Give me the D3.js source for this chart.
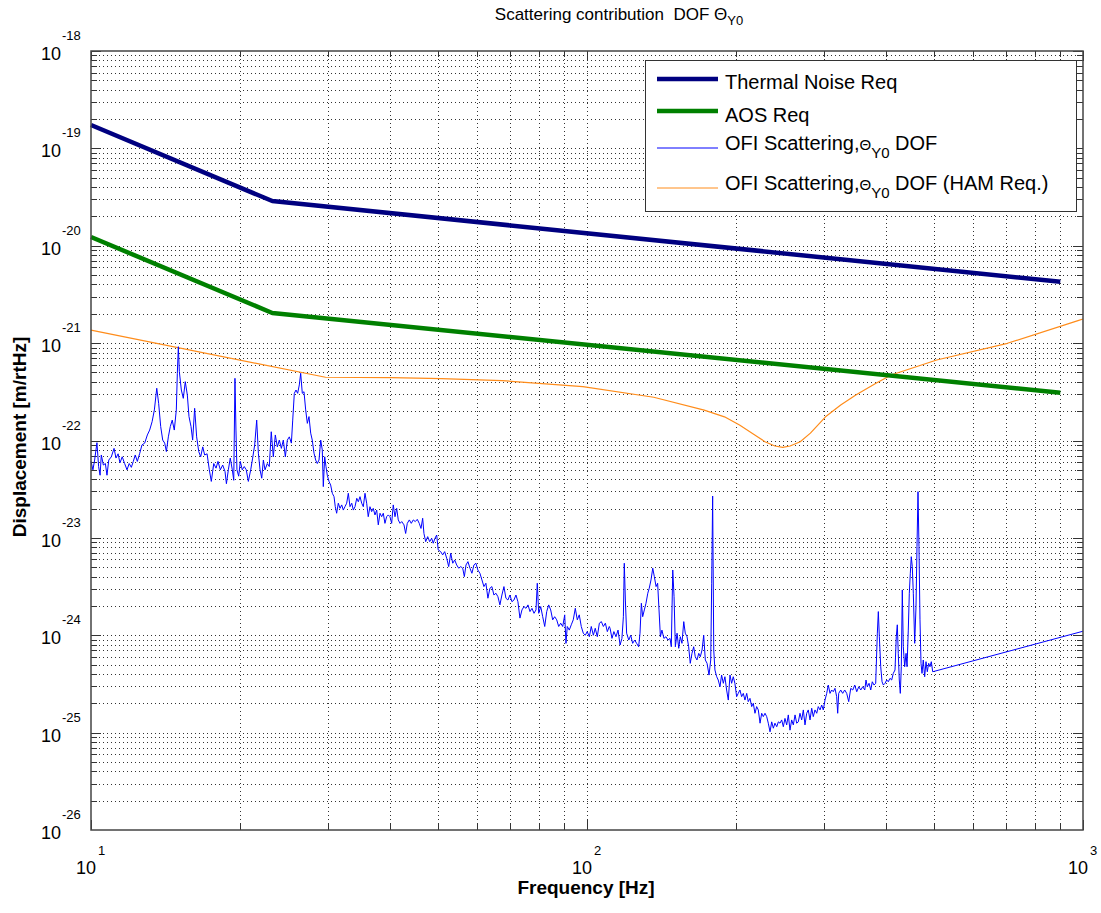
<!DOCTYPE html>
<meta charset="utf-8">
<style>
    body { margin: 0; background: #fff; }
    text { font-family: "Liberation Sans", Arial, Helvetica, sans-serif; fill: #000; }
    .grid line { stroke: #333; stroke-width: 1; stroke-dasharray: 1,3; }
    .tick { stroke: #333; stroke-width: 1; }
    .frame { fill: none; stroke: #444; stroke-width: 1.5; }
    .series { fill: none; stroke-linejoin: round; }
</style>
<svg width="1101" height="913"></svg>
<script src="https://d3js.org/d3.v7.min.js"></script>
<script>

    // requirement curves (frequency Hz, displacement m/rtHz)
    var thermalReq = [[10, 1.74e-19], [23.2, 2.88e-20], [900, 4.27e-21]];
    var aosReq = [[10, 1.23e-20], [23.2, 2.04e-21], [900, 3.09e-22]];

    var hamReq = [[10, 1.36e-21], [29.7, 4.46e-22], [40.3, 4.42e-22], [50.9, 4.32e-22], [67.4, 4.12e-22],
        [98.1, 3.57e-22], [136.3, 2.78e-22], [172.3, 2.05e-22], [189.3, 1.75e-22], [203, 1.44e-22],
        [217.9, 1.14e-22], [228.4, 9.72e-23], [239.3, 8.78e-23], [248, 8.51e-23], [256.7, 8.78e-23],
        [269.1, 9.72e-23], [282.1, 1.19e-22], [302.6, 1.75e-22], [324.7, 2.31e-22], [348.3, 2.93e-22],
        [382.5, 3.87e-22], [410.5, 4.71e-22], [507, 6.71e-22], [704, 9.96e-22], [977, 1.70e-21], [1000, 1.77e-21]];

    var ofiScatter = [
        [10.0, 6.1e-23], [10.09, 5.0e-23], [10.17, 6.3e-23], [10.28, 9.5e-23], [10.36, 5.4e-23], [10.43, 4.4e-23],
        [10.49, 7.1e-23], [10.59, 5.6e-23], [10.69, 5.8e-23], [10.77, 4.4e-23], [10.86, 6.3e-23], [10.99, 6.8e-23],
        [11.13, 8.3e-23], [11.23, 6.6e-23], [11.34, 7.3e-23], [11.44, 5.9e-23], [11.56, 6.8e-23], [11.69, 5.8e-23],
        [11.82, 5.0e-23], [11.94, 5.8e-23], [12.06, 5.3e-23], [12.17, 6.1e-23], [12.28, 7.1e-23], [12.40, 6.1e-23],
        [12.54, 7.4e-23], [12.67, 9.0e-23], [12.83, 9.4e-23], [12.99, 1.14e-22], [13.13, 1.28e-22], [13.28, 1.56e-22],
        [13.42, 2.06e-22], [13.57, 3.44e-22], [13.69, 2.41e-22], [13.82, 1.39e-22], [13.95, 1.01e-22], [14.08, 9.4e-23],
        [14.19, 7.7e-23], [14.32, 1.09e-22], [14.45, 1.39e-22], [14.58, 1.62e-22], [14.72, 1.28e-22], [14.86, 2.06e-22],
        [14.93, 4.90e-22], [15.00, 9.19e-22], [15.07, 5.09e-22], [15.21, 3.30e-22], [15.35, 2.71e-22], [15.49, 4.02e-22],
        [15.64, 2.93e-22], [15.76, 1.76e-22], [15.91, 1.39e-22], [16.03, 1.01e-22], [16.18, 2.14e-22], [16.33, 1.09e-22],
        [16.49, 7.7e-23], [16.64, 6.8e-23], [16.80, 8.6e-23], [16.95, 7.1e-23], [17.14, 7.3e-23], [17.32, 5.0e-23],
        [17.48, 3.8e-23], [17.68, 5.8e-23], [17.87, 5.2e-23], [18.03, 6.1e-23], [18.23, 5.0e-23], [18.43, 5.6e-23],
        [18.63, 4.8e-23], [18.75, 3.6e-23], [18.92, 5.0e-23], [19.09, 6.6e-23], [19.27, 5.0e-23], [19.40, 3.9e-23],
        [19.51, 4.35e-22], [19.60, 1.28e-22], [19.69, 5.0e-23], [19.85, 4.3e-23], [20.00, 6.1e-23], [20.18, 5.0e-23],
        [20.37, 5.4e-23], [20.56, 5.0e-23], [20.76, 3.8e-23], [20.99, 5.0e-23], [21.18, 6.6e-23], [21.38, 9.0e-23],
        [21.58, 1.62e-22], [21.75, 7.4e-23], [21.92, 5.0e-23], [22.09, 4.1e-23], [22.26, 6.3e-23], [22.43, 5.0e-23],
        [22.67, 5.8e-23], [22.88, 5.4e-23], [23.09, 1.23e-22], [23.31, 6.8e-23], [23.53, 1.14e-22], [23.75, 8.6e-23],
        [23.97, 1.01e-22], [24.20, 8.3e-23], [24.42, 1.01e-22], [24.65, 6.8e-23], [24.88, 1.01e-22], [25.11, 1.09e-22],
        [25.35, 9.4e-23], [25.51, 1.62e-22], [25.70, 3.05e-22], [25.90, 3.30e-22], [26.10, 3.05e-22], [26.30, 3.72e-22],
        [26.47, 4.90e-22], [26.67, 3.05e-22], [26.88, 3.17e-22], [27.09, 2.06e-22], [27.30, 1.50e-22], [27.51, 1.76e-22],
        [27.73, 1.19e-22], [27.93, 1.01e-22], [28.16, 7.4e-23], [28.38, 6.3e-23], [28.59, 5.8e-23], [28.82, 6.3e-23],
        [29.05, 1.01e-22], [29.26, 8.0e-23], [29.40, 3.36e-23], [29.59, 6.8e-23], [29.77, 5.4e-23], [29.95, 4.4e-23],
        [30.19, 3.8e-23], [30.42, 3.49e-23], [30.66, 2.87e-23], [30.90, 2.65e-23], [31.08, 2.09e-23], [31.28, 1.79e-23],
        [31.52, 2.27e-23], [31.77, 2.01e-23], [32.02, 2.18e-23], [32.26, 1.93e-23], [32.51, 2.09e-23], [32.77, 2.27e-23],
        [33.02, 2.87e-23], [33.28, 2.09e-23], [33.55, 2.27e-23], [33.80, 1.93e-23], [34.06, 2.09e-23], [34.34, 2.55e-23],
        [34.59, 2.35e-23], [34.86, 2.65e-23], [35.14, 2.27e-23], [35.40, 2.09e-23], [35.68, 2.87e-23], [35.96, 2.27e-23],
        [36.22, 1.65e-23], [36.51, 2.09e-23], [36.80, 1.86e-23], [37.07, 2.01e-23], [37.37, 1.72e-23], [37.67, 1.93e-23],
        [37.95, 1.36e-23], [38.25, 1.79e-23], [38.55, 1.65e-23], [38.84, 1.79e-23], [39.14, 1.41e-23], [39.45, 1.65e-23],
        [39.75, 1.72e-23], [40.06, 1.65e-23], [40.38, 1.41e-23], [40.68, 2.18e-23], [41.01, 1.65e-23], [41.33, 2.01e-23],
        [41.64, 1.53e-23], [41.98, 1.41e-23], [42.31, 1.47e-23], [42.76, 1.36e-23], [43.09, 1.11e-23], [43.42, 1.41e-23],
        [43.83, 1.53e-23], [44.23, 1.41e-23], [44.64, 1.53e-23], [45.06, 1.47e-23], [45.48, 1.55e-23], [45.90, 1.41e-23],
        [46.27, 1.25e-23], [46.63, 1.59e-23], [46.91, 1.11e-23], [47.29, 9.15e-24], [47.73, 1.03e-23], [48.17, 9.15e-24],
        [48.62, 9.9e-24], [48.98, 8.81e-24], [49.37, 9.9e-24], [49.77, 1.07e-23], [50.12, 7.52e-24], [50.70, 7.22e-24],
        [51.17, 6.68e-24], [51.65, 7.22e-24], [52.13, 6.18e-24], [52.62, 5.07e-24], [53.12, 6.95e-24], [53.62, 5.49e-24],
        [54.11, 5.93e-24], [54.61, 5.27e-24], [55.13, 4.88e-24], [55.65, 5.07e-24], [56.16, 4.88e-24], [56.59, 4.0e-24],
        [57.02, 5.27e-24], [57.54, 5.70e-24], [58.08, 4.88e-24], [58.61, 4.33e-24], [59.16, 5.27e-24], [59.71, 5.49e-24],
        [60.25, 4.68e-24], [60.83, 4.33e-24], [61.40, 3.70e-24], [61.97, 3.16e-24], [62.54, 3.42e-24], [63.13, 2.40e-24],
        [63.72, 3.04e-24], [64.31, 3.16e-24], [64.91, 2.59e-24], [65.52, 2.70e-24], [66.13, 2.49e-24], [66.74, 2.05e-24],
        [67.37, 2.59e-24], [68.00, 3.16e-24], [68.63, 2.40e-24], [69.27, 2.30e-24], [69.92, 2.59e-24], [70.57, 2.21e-24],
        [71.24, 2.30e-24], [71.90, 2.59e-24], [72.57, 2.21e-24], [73.25, 1.50e-24], [73.94, 1.82e-24], [74.63, 1.97e-24],
        [75.33, 1.89e-24], [76.03, 2.05e-24], [76.74, 1.75e-24], [77.46, 1.89e-24], [78.19, 1.68e-24], [78.91, 1.82e-24],
        [79.39, 3.42e-24], [79.92, 1.68e-24], [80.66, 1.97e-24], [81.41, 1.55e-24], [82.18, 1.23e-24], [82.94, 1.75e-24],
        [83.71, 2.05e-24], [84.49, 1.82e-24], [85.27, 1.44e-24], [86.07, 1.55e-24], [86.88, 1.44e-24], [87.69, 1.23e-24],
        [88.51, 1.33e-24], [89.34, 1.23e-24], [90.17, 1.62e-24], [90.70, 8.26e-25], [91.25, 1.23e-24], [92.11, 1.13e-24],
        [92.96, 1.28e-24], [93.82, 1.44e-24], [94.71, 1.89e-24], [95.59, 1.44e-24], [96.47, 1.62e-24], [97.38, 1.23e-24],
        [98.29, 1.05e-24], [99.20, 1.0e-24], [100.1, 1.09e-24], [101.1, 9.66e-25], [102.0, 1.23e-24], [103.0, 1.0e-24],
        [103.9, 1.18e-24], [104.9, 9.66e-25], [105.9, 1.33e-24], [106.9, 1.38e-24], [107.9, 1.23e-24], [108.9, 1.33e-24],
        [109.9, 1.09e-24], [110.9, 1.23e-24], [111.3, 1.18e-24], [112.3, 9.29e-25], [113.3, 1.09e-24], [114.4, 9.66e-25],
        [115.5, 1.13e-24], [116.6, 7.94e-25], [117.6, 9.29e-25], [118.4, 1.55e-24], [118.9, 5.49e-24], [119.5, 2.30e-24],
        [120.2, 1.05e-24], [121.4, 8.93e-25], [122.5, 1.0e-24], [123.6, 8.26e-25], [124.8, 8.93e-25], [125.9, 8.26e-25],
        [127.1, 7.62e-25], [127.9, 1.05e-24], [128.7, 2.13e-24], [129.5, 1.55e-24], [130.5, 1.82e-24], [131.5, 2.13e-24],
        [132.6, 2.70e-24], [133.5, 3.04e-24], [134.6, 3.70e-24], [135.7, 4.88e-24], [136.7, 4.0e-24], [137.8, 3.16e-24],
        [138.8, 3.42e-24], [139.7, 1.82e-24], [140.6, 9.66e-25], [141.6, 1.13e-24], [142.9, 9.29e-25], [144.3, 9.66e-25],
        [145.6, 8.93e-25], [147.0, 9.29e-25], [147.9, 7.62e-25], [148.9, 4.68e-24], [149.8, 2.49e-24], [150.7, 7.62e-25],
        [151.9, 1.05e-24], [153.1, 7.34e-25], [154.2, 9.66e-25], [155.4, 8.26e-25], [156.7, 1.38e-24], [157.8, 1.05e-24],
        [159.1, 9.66e-25], [160.3, 7.62e-25], [161.5, 5.15e-25], [162.8, 6.52e-25], [164.1, 7.62e-25], [165.3, 6.02e-25],
        [166.6, 5.57e-25], [168.0, 6.52e-25], [169.2, 6.02e-25], [170.6, 7.05e-25], [171.9, 1.0e-24], [173.2, 5.57e-25],
        [174.6, 5.15e-25], [176.2, 3.90e-25], [177.6, 5.57e-25], [178.4, 3.42e-24], [179.2, 2.69e-23], [180.1, 7.05e-25],
        [181.1, 4.40e-25], [182.6, 3.75e-25], [183.9, 3.47e-25], [185.4, 2.96e-25], [186.8, 3.90e-25], [188.3, 3.21e-25],
        [189.7, 3.75e-25], [191.2, 2.74e-25], [192.7, 2.16e-25], [194.2, 3.90e-25], [195.7, 3.21e-25], [197.2, 3.75e-25],
        [198.7, 3.21e-25], [200.3, 2.34e-25], [201.8, 2.53e-25], [203.4, 2.74e-25], [205.0, 2.34e-25], [206.6, 2.53e-25],
        [208.2, 2.16e-25], [209.9, 2.53e-25], [211.4, 2.08e-25], [213.1, 2.25e-25], [214.8, 1.85e-25], [216.4, 2.0e-25],
        [218.1, 1.58e-25], [219.8, 1.85e-25], [221.5, 1.71e-25], [223.3, 1.25e-25], [225.0, 1.58e-25], [226.7, 1.46e-25],
        [228.5, 1.58e-25], [230.3, 1.46e-25], [232.0, 1.25e-25], [233.9, 1.02e-25], [235.7, 1.29e-25], [237.5, 1.11e-25],
        [239.3, 1.25e-25], [241.3, 1.15e-25], [243.1, 1.29e-25], [245.0, 1.25e-25], [246.9, 1.35e-25], [248.8, 1.15e-25],
        [250.7, 1.40e-25], [252.7, 1.20e-25], [254.6, 1.52e-25], [256.6, 1.06e-25], [258.6, 1.35e-25], [260.6, 1.20e-25],
        [262.7, 1.52e-25], [264.7, 1.25e-25], [266.7, 1.29e-25], [268.8, 1.58e-25], [270.9, 1.35e-25], [273.0, 1.71e-25],
        [275.1, 1.20e-25], [277.3, 1.58e-25], [279.3, 1.71e-25], [281.6, 1.35e-25], [283.8, 1.78e-25], [285.9, 1.46e-25],
        [288.2, 1.71e-25], [290.5, 1.58e-25], [292.6, 1.85e-25], [295.0, 1.71e-25], [297.3, 1.92e-25], [299.5, 1.71e-25],
        [301.9, 2.16e-25], [304.3, 2.53e-25], [306.5, 3.08e-25], [309.0, 2.53e-25], [311.4, 2.74e-25], [313.7, 2.63e-25],
        [316.2, 2.85e-25], [318.7, 2.34e-25], [320.2, 1.58e-25], [321.7, 2.53e-25], [324.7, 2.74e-25], [327.7, 2.53e-25],
        [330.8, 2.74e-25], [333.9, 2.53e-25], [337.0, 2.08e-25], [340.2, 2.85e-25], [343.4, 2.74e-25], [346.6, 3.08e-25],
        [349.8, 2.63e-25], [353.1, 2.96e-25], [356.4, 2.74e-25], [359.7, 2.96e-25], [363.1, 2.74e-25], [365.2, 3.47e-25],
        [367.4, 2.96e-25], [370.4, 3.21e-25], [373.3, 2.74e-25], [376.0, 3.33e-25], [379.0, 3.08e-25], [382.0, 3.21e-25],
        [384.9, 1.05e-24], [386.7, 1.75e-24], [388.5, 9.66e-25], [391.0, 4.75e-25], [393.4, 3.33e-25], [395.8, 3.08e-25],
        [398.9, 3.21e-25], [402.0, 3.47e-25], [405.0, 3.33e-25], [408.2, 3.61e-25], [411.4, 3.47e-25], [414.5, 4.06e-25],
        [417.8, 4.40e-25], [420.3, 9.66e-25], [422.3, 1.28e-24], [424.2, 6.52e-25], [426.2, 3.47e-25], [428.2, 2.53e-25],
        [430.2, 4.75e-25], [432.2, 2.92e-24], [434.2, 7.62e-25], [437.0, 4.75e-25], [439.8, 6.52e-25], [441.8, 4.75e-25],
        [444.4, 1.13e-24], [446.5, 2.70e-24], [448.6, 4.33e-24], [450.6, 6.41e-24], [452.7, 5.07e-24], [454.9, 2.70e-24],
        [457.8, 8.26e-25], [460.6, 1.97e-24], [462.7, 8.13e-24], [464.9, 2.98e-23], [467.0, 8.13e-24], [469.2, 1.44e-24],
        [471.4, 5.15e-25], [473.6, 4.06e-25], [476.4, 5.57e-25], [479.5, 3.75e-25], [482.5, 5.35e-25], [485.4, 4.22e-25],
        [488.5, 5.15e-25], [491.5, 4.75e-25], [494.5, 5.35e-25], [497.7, 4.22e-25], [1000, 1.1e-24]
    ];

    var xTickValues = [10, 100, 1000];
    var yTickValues = [1e-26, 1e-25, 1e-24, 1e-23, 1e-22, 1e-21, 1e-20, 1e-19, 1e-18];

    var legendItems = [
        {name: "Thermal Noise Req", color: "#000080", width: 4.5},
        {name: "AOS Req", color: "#008000", width: 4.5},
        {name: "OFI Scattering,", sym: true, tail: " DOF", color: "#0000ff", width: 1},
        {name: "OFI Scattering,", sym: true, tail: " DOF (HAM Req.)", color: "#ff8c1a", width: 1}
    ];

    var svg = d3.select("svg");
    svg.append("rect").attr("width", 1101).attr("height", 913).attr("fill", "#fff");

    var x = d3.scaleLog().domain([10, 1000]).range([91, 1083]);
    var y = d3.scaleLog().domain([1e-26, 1e-18]).range([830, 51]);

    var xAll = x.ticks();
    var yAll = y.ticks();
    var isMajor = function(v) { return Math.abs(Math.log10(v) - Math.round(Math.log10(v))) < 1e-6; };

    // dotted grid
    var grid = svg.append("g").attr("class", "grid");
    grid.selectAll(".gx").data(xAll.filter(function(d) { return d > 10 && d < 1000; }))
        .enter().append("line")
        .attr("x1", function(d) { return Math.round(x(d)) + 0.5; })
        .attr("x2", function(d) { return Math.round(x(d)) + 0.5; })
        .attr("y1", 51).attr("y2", 830);
    grid.selectAll(".gy").data(yAll.filter(function(d) { return d > 1.01e-26 && d < 0.99e-18; }))
        .enter().append("line")
        .attr("y1", function(d) { return Math.round(y(d)) + 0.5; })
        .attr("y2", function(d) { return Math.round(y(d)) + 0.5; })
        .attr("x1", 91).attr("x2", 1083);

    // ticks on all four sides, pointing inward
    var ticks = svg.append("g");
    xAll.forEach(function(d) {
        var len = isMajor(d) ? 10 : 6, px = Math.round(x(d)) + 0.5;
        ticks.append("line").attr("class", "tick").attr("x1", px).attr("x2", px).attr("y1", 830).attr("y2", 830 - len);
        ticks.append("line").attr("class", "tick").attr("x1", px).attr("x2", px).attr("y1", 51).attr("y2", 51 + len);
    });
    yAll.forEach(function(d) {
        var len = isMajor(d) ? 10 : 6, py = Math.round(y(d)) + 0.5;
        ticks.append("line").attr("class", "tick").attr("y1", py).attr("y2", py).attr("x1", 91).attr("x2", 91 + len);
        ticks.append("line").attr("class", "tick").attr("y1", py).attr("y2", py).attr("x1", 1083).attr("x2", 1083 - len);
    });

    // tick labels: 10 with superscript exponent
    xTickValues.forEach(function(d) {
        var px = x(d);
        svg.append("text").attr("x", px + 5).attr("y", 874).attr("text-anchor", "end")
            .attr("font-size", 18).text("10");
        svg.append("text").attr("x", px + 7).attr("y", 855).attr("font-size", 13)
            .text(Math.round(Math.log10(d)));
    });
    yTickValues.forEach(function(d) {
        var py = y(d);
        svg.append("text").attr("x", 61).attr("y", py + 9).attr("text-anchor", "end")
            .attr("font-size", 18).text("10");
        svg.append("text").attr("x", 62).attr("y", py - 11).attr("font-size", 13)
            .text(Math.round(Math.log10(d)));
    });

    // series
    var line = d3.line()
        .x(function(d) { return x(d[0]); })
        .y(function(d) { return y(d[1]); });

    var plot = svg.append("g");
    plot.append("path").datum(hamReq).attr("class", "series")
        .attr("stroke", "#ff8c1a").attr("stroke-width", 1.2).attr("d", line);
    plot.append("path").datum(ofiScatter).attr("class", "series")
        .attr("stroke", "#0000ff").attr("stroke-width", 1).attr("d", line);
    plot.append("path").datum(aosReq).attr("class", "series")
        .attr("stroke", "#008000").attr("stroke-width", 4.5).attr("d", line);
    plot.append("path").datum(thermalReq).attr("class", "series")
        .attr("stroke", "#000080").attr("stroke-width", 4.5).attr("d", line);

    // frame
    svg.append("rect").attr("class", "frame")
        .attr("x", 91).attr("y", 51).attr("width", 992).attr("height", 779);

    // legend
    var lg = svg.append("g");
    lg.append("rect").attr("x", 645.5).attr("y", 60.5).attr("width", 431).attr("height", 151)
        .attr("fill", "#fff").attr("stroke", "#333").attr("stroke-width", 1);
    var rowLine = [79, 111, 148, 188];
    var rowText = [89, 122, 150, 190];
    legendItems.forEach(function(it, i) {
        lg.append("line").attr("x1", 657).attr("x2", 718)
            .attr("y1", rowLine[i]).attr("y2", rowLine[i])
            .attr("stroke", it.color).attr("stroke-width", it.width);
        var t = lg.append("text").attr("x", 725).attr("y", rowText[i]).attr("font-size", 20);
        t.append("tspan").text(it.name);
        if (it.sym) {
            t.append("tspan").attr("font-size", 15).text("\u0398");
            t.append("tspan").attr("font-size", 15).attr("dy", 8).text("Y0");
            t.append("tspan").attr("dy", -8).text(it.tail);
        }
    });

    // title and axis labels
    var title = svg.append("text").attr("x", 619).attr("y", 20).attr("text-anchor", "middle")
        .attr("font-size", 17);
    title.append("tspan").text("Scattering contribution\u00a0\u00a0DOF \u0398");
    title.append("tspan").attr("font-size", 13).attr("dy", 5).text("Y0");

    svg.append("text").attr("x", 586).attr("y", 894).attr("text-anchor", "middle")
        .attr("font-size", 19).attr("font-weight", "bold").text("Frequency [Hz]");
    svg.append("text").attr("transform", "translate(26,437) rotate(-90)").attr("text-anchor", "middle")
        .attr("font-size", 19).attr("font-weight", "bold").text("Displacement [m/rtHz]");

</script>
